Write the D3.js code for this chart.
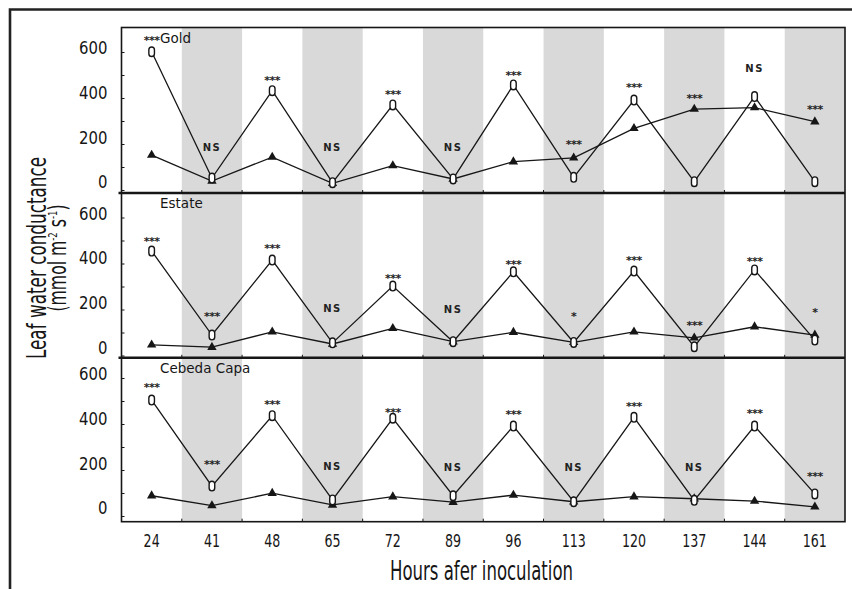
<!DOCTYPE html>
<html>
<head>
<meta charset="utf-8">
<script src="https://cdn.jsdelivr.net/npm/d3@7"></script>
<style>
  html, body { margin: 0; padding: 0; background: #fff; }
  svg { display: block; }
</style>
</head>
<body>
<script>
// ---------------- DATA ----------------
const hours = ["24", "41", "48", "65", "72", "89", "96", "113", "120", "137", "144", "161"];
const cultivars = ["Gold", "Estate", "Cebeda Capa"];
const yTickValues = [0, 100, 200, 300, 400, 500, 600];
const yTickLabels = [0, 200, 400, 600];

// open markers series
const goldOpen   = [601, 52, 432, 32, 370, 48, 457, 55, 391, 36, 406, 36];
const estateOpen = [454, 89, 415, 55, 302, 60, 364, 57, 367, 38, 372, 67];
const cebedaOpen = [504, 130, 436, 70, 425, 88, 391, 62, 429, 68, 391, 96];

// filled triangle series
const goldFilled   = [152, 39, 143, 29, 106, 48, 123, 140, 268, 352, 358, 297];
const estateFilled = [46, 36, 103, 50, 118, 60, 101, 57, 103, 77, 125, 89];
const cebedaFilled = [88, 45, 99, 48, 84, 60, 91, 62, 84, 75, 65, 40];

// significance labels and the value level at which each is written
const goldSig     = ["***", "NS", "***", "NS", "***", "NS", "***", "***", "***", "***", "NS", "***"];
const goldSigAt   = [661, 187, 491, 187, 430, 187, 509, 209, 457, 413, 530, 361];
const estateSig   = ["***", "***", "***", "NS", "***", "NS", "***", "*", "***", "***", "***", "*"];
const estateSigAt = [510, 183, 477, 205, 350, 202, 408, 183, 425, 144, 423, 202];
const cebedaSig   = ["***", "***", "***", "NS", "***", "NS", "***", "NS", "***", "NS", "***", "***"];
const cebedaSigAt = [570, 236, 497, 217, 464, 214, 453, 214, 490, 214, 457, 186];

const xTitle = "Hours afer inoculation";
const yTitle1 = "Leaf water conductance";

// ---------------- LAYOUT ----------------
const W = 852, H = 589;
const plotLeft = 121.5, plotRight = 845;
const panelTops = [27.5, 193, 357.8];
const panelBottoms = [193, 357.8, 521.7];
const panelZero = [190, 355.5, 516];   // pixel of value 0
const panelSix = [52, 217.5, 378];     // pixel of value 600

const panelData = [
  { name: cultivars[0], open: goldOpen, filled: goldFilled, sig: goldSig, sigAt: goldSigAt },
  { name: cultivars[1], open: estateOpen, filled: estateFilled, sig: estateSig, sigAt: estateSigAt },
  { name: cultivars[2], open: cebedaOpen, filled: cebedaFilled, sig: cebedaSig, sigAt: cebedaSigAt }
];

const tickFont = "'DejaVu Sans Condensed', 'DejaVu Sans', sans-serif";
const labelFont = "'DejaVu Sans', 'Liberation Sans', sans-serif";
const ink = "#161616";

const svg = d3.select("body").append("svg")
  .attr("width", W).attr("height", H)
  .attr("viewBox", `0 0 ${W} ${H}`);

svg.append("rect").attr("width", W).attr("height", H).attr("fill", "#fff");

const x = d3.scaleBand().domain(hours).range([plotLeft, plotRight]).padding(0);
const bw = x.bandwidth();
const cx = h => x(h) + bw / 2;

// gray bands
panelData.forEach((p, pi) => {
  svg.append("g").selectAll("rect")
    .data(hours.filter((h, i) => i % 2 === 1))
    .join("rect")
    .attr("x", d => x(d))
    .attr("y", panelTops[pi])
    .attr("width", bw)
    .attr("height", panelBottoms[pi] - panelTops[pi])
    .attr("fill", "#d9d9d9");
});

const ySx = 0.92;

panelData.forEach((p, pi) => {
  const y = d3.scaleLinear().domain([0, 600]).range([panelZero[pi], panelSix[pi]]);
  const g = svg.append("g");

  // y axis ticks + labels
  const yAxis = d3.axisLeft(y)
    .tickValues(yTickValues)
    .tickSizeInner(-3)
    .tickSizeOuter(0)
    .tickPadding(14)
    .tickFormat(d => yTickLabels.includes(d) ? d : "");
  const ya = g.append("g").attr("transform", `translate(${plotLeft},0)`).call(yAxis);
  ya.select(".domain").remove();
  ya.selectAll(".tick line").attr("stroke", ink).attr("stroke-width", 1);
  ya.selectAll(".tick text")
    .attr("x", -14 / ySx)
    .attr("y", d => -(4 + (600 - d) / 600 * 4))
    .attr("transform", `scale(${ySx},1)`)
    .attr("fill", ink)
    .style("font-family", tickFont)
    .style("font-size", "18px");

  // small ticks at band boundaries on panel bottom
  g.append("g").selectAll("line")
    .data(hours.slice(1))
    .join("line")
    .attr("x1", d => x(d)).attr("x2", d => x(d))
    .attr("y1", panelBottoms[pi]).attr("y2", panelBottoms[pi] - 3)
    .attr("stroke", ink).attr("stroke-width", 1);

  const line = d3.line().x((d, i) => cx(hours[i])).y(d => y(d));

  g.append("path").datum(p.filled).attr("d", line)
    .attr("fill", "none").attr("stroke", ink).attr("stroke-width", 1.3);
  g.append("path").datum(p.open).attr("d", line)
    .attr("fill", "none").attr("stroke", ink).attr("stroke-width", 1.3);

  // filled triangles
  g.append("g").selectAll("path")
    .data(p.filled)
    .join("path")
    .attr("d", d3.symbol().type(d3.symbolTriangle).size(38))
    .attr("transform", (d, i) => `translate(${cx(hours[i])},${y(d)})`)
    .attr("fill", ink);

  // open markers
  g.append("g").selectAll("rect")
    .data(p.open)
    .join("rect")
    .attr("x", (d, i) => cx(hours[i]) - 2.8)
    .attr("y", d => y(d) - 4.8)
    .attr("width", 5.6).attr("height", 9.6)
    .attr("rx", 2.8).attr("ry", 2.8)
    .attr("fill", "#fff").attr("stroke", ink).attr("stroke-width", 1.4);

  // significance labels
  g.append("g").selectAll("text")
    .data(p.sig)
    .join("text")
    .attr("x", (d, i) => cx(hours[i]))
    .attr("y", (d, i) => y(p.sigAt[i]) + (d === "NS" ? 3.8 : 6.5))
    .attr("text-anchor", "middle")
    .attr("fill", "#222")
    .style("font-family", labelFont)
    .style("font-weight", "bold")
    .style("font-size", d => d === "NS" ? "10px" : "11px")
    .style("letter-spacing", d => d === "NS" ? "1.5px" : "-0.5px")
    .text(d => d);

  // panel name
  g.append("text")
    .attr("x", 160)
    .attr("y", panelTops[pi] + 10 + 5)
    .attr("fill", ink)
    .style("font-family", labelFont)
    .style("font-size", "13.5px")
    .text(p.name);
});

// plot border
svg.append("rect")
  .attr("x", plotLeft).attr("y", panelTops[0])
  .attr("width", plotRight - plotLeft)
  .attr("height", panelBottoms[2] - panelTops[0])
  .attr("fill", "none").attr("stroke", ink).attr("stroke-width", 1.6);

// panel separators
svg.append("g").selectAll("line")
  .data([panelBottoms[0], panelBottoms[1]])
  .join("line")
  .attr("x1", plotLeft - 3).attr("x2", plotRight)
  .attr("y1", d => d).attr("y2", d => d)
  .attr("stroke", ink).attr("stroke-width", 2.6);

// x axis labels
const xSx = 0.78;
const xAxis = d3.axisBottom(x).tickSizeInner(0).tickSizeOuter(0).tickPadding(12.5);
const xa = svg.append("g").attr("transform", `translate(0,${panelBottoms[2]})`).call(xAxis);
xa.select(".domain").remove();
xa.selectAll(".tick text")
  .attr("transform", `scale(${xSx},1)`)
  .attr("fill", ink)
  .style("font-family", tickFont)
  .style("font-size", "18px");

// axis titles
svg.append("text")
  .attr("x", 481.5).attr("y", 580)
  .attr("text-anchor", "middle")
  .attr("textLength", 183).attr("lengthAdjust", "spacingAndGlyphs")
  .attr("fill", ink)
  .style("font-family", tickFont)
  .style("font-size", "27px")
  .text(xTitle);

svg.append("text")
  .attr("transform", "translate(45.5,258) rotate(-90)")
  .attr("text-anchor", "middle")
  .attr("textLength", 202).attr("lengthAdjust", "spacingAndGlyphs")
  .attr("fill", ink)
  .style("font-family", tickFont)
  .style("font-size", "27px")
  .text(yTitle1);

const t2 = svg.append("text")
  .attr("transform", "translate(66,258) rotate(-90)")
  .attr("text-anchor", "middle")
  .attr("textLength", 107).attr("lengthAdjust", "spacingAndGlyphs")
  .attr("fill", ink)
  .style("font-family", tickFont)
  .style("font-size", "24px");
t2.append("tspan").text("(mmol m");
t2.append("tspan").attr("dy", -9).style("font-size", "13px").text("-2");
t2.append("tspan").attr("dy", 9).text(" s");
t2.append("tspan").attr("dy", -9).style("font-size", "13px").text("-1");
t2.append("tspan").attr("dy", 9).text(")");

// outer frame (top and left)
svg.append("path")
  .attr("d", `M10,${H} L10,9.5 L${W},9.5`)
  .attr("fill", "none").attr("stroke", "#222").attr("stroke-width", 2.6);
</script>
</body>
</html>
